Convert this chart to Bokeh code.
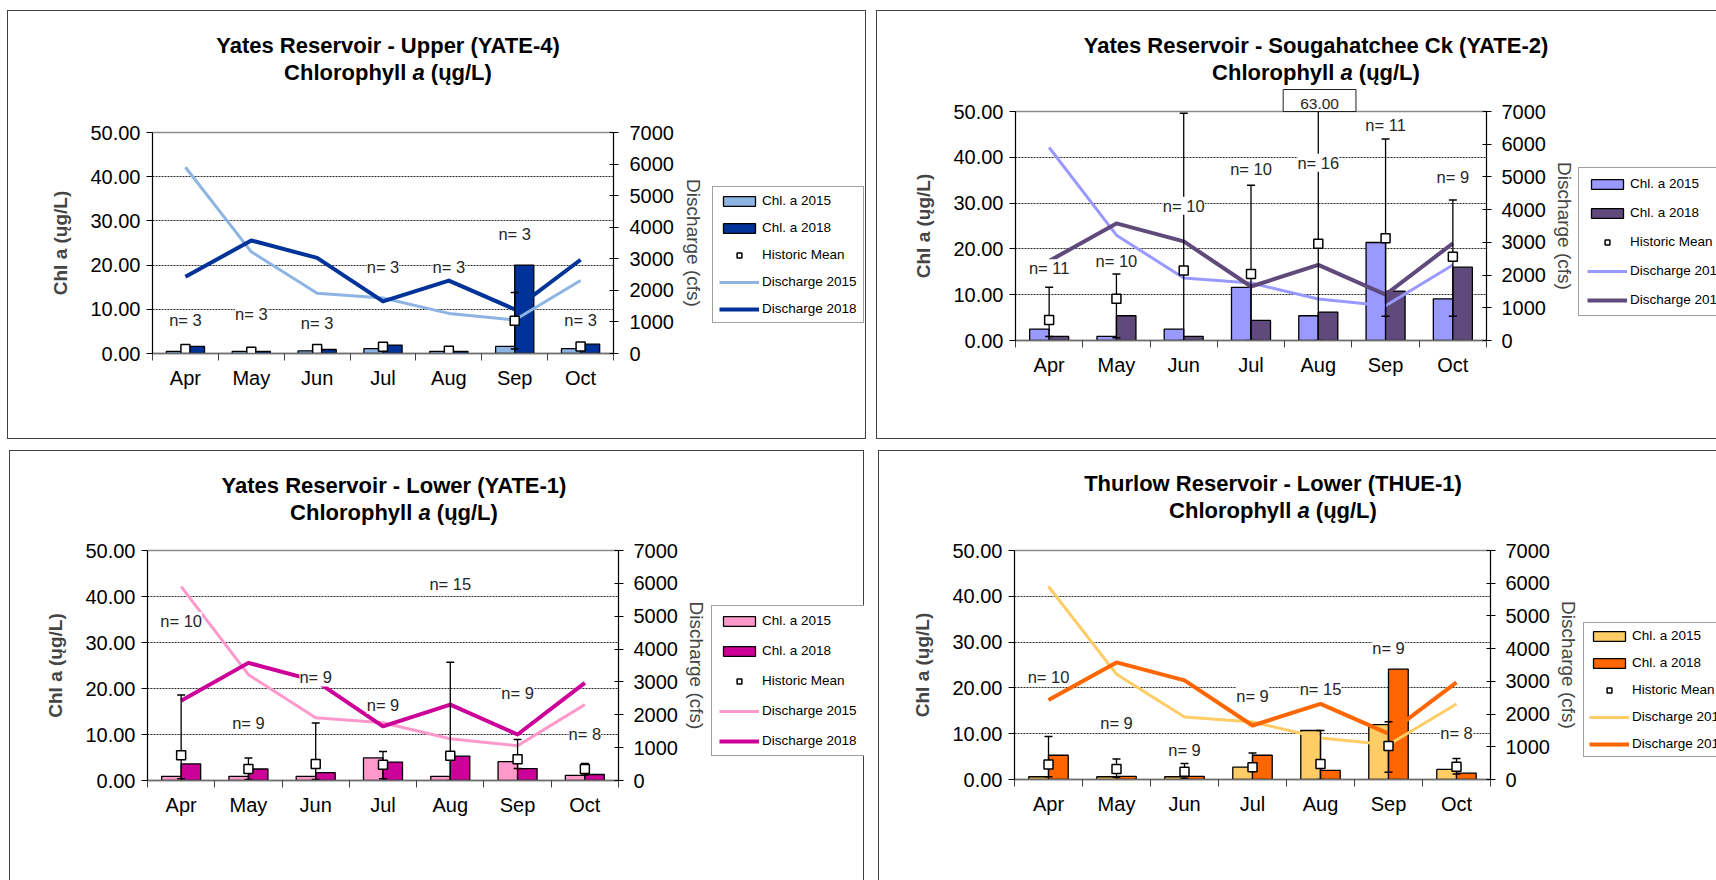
from bokeh.embed import file_html
from bokeh.layouts import column, row
from bokeh.core.properties import value
from bokeh.models import (ColumnDataSource, CustomJSTickFormatter, Div, FixedTicker, LabelSet,
                          Legend, LegendItem, LinearAxis, PrintfTickFormatter, Range1d, Title)
from bokeh.plotting import figure
from bokeh.resources import INLINE
from bokeh.transform import dodge

FONT = "Liberation Sans"

months = ["Apr", "May", "Jun", "Jul", "Aug", "Sep", "Oct"]

# Monthly mean discharge (cfs), shared by every station
discharge_2015 = [5900, 3220, 1910, 1760, 1270, 1060, 2310]
discharge_2018 = [2430, 3580, 3030, 1650, 2310, 1400, 2970]

# Yates Reservoir - Upper (YATE-4), chlorophyll a (ug/L)
yate4_chl_2015 = [0.5, 0.5, 0.6, 1.1, 0.5, 1.6, 1.1]
yate4_chl_2018 = [1.6, 0.5, 0.9, 1.9, 0.5, 20.0, 2.1]
yate4_hist_mean = [1.0, 0.4, 1.0, 1.5, 0.6, 7.4, 1.6]
yate4_hist_upper = [1.0, 0.4, 1.0, 1.5, 0.6, 13.8, 1.6]
yate4_hist_lower = [1.0, 0.4, 1.0, 1.5, 0.6, 1.0, 1.6]
yate4_n = [3, 3, 3, 3, 3, 3, 3]

# Yates Reservoir - Sougahatchee Ck (YATE-2)
yate2_chl_2015 = [2.5, 0.9, 2.5, 11.6, 5.4, 21.4, 9.1]
yate2_chl_2018 = [0.9, 5.4, 0.9, 4.4, 6.2, 10.8, 16.0]
yate2_hist_mean = [4.5, 9.1, 15.3, 14.5, 21.1, 22.3, 18.3]
yate2_hist_upper = [11.6, 14.5, 49.6, 33.9, 63.0, 44.0, 30.7]
yate2_hist_lower = [0.9, 0.6, 0.0, 0.0, 0.0, 5.3, 5.3]
yate2_n = [11, 10, 10, 10, 16, 11, 9]

# Yates Reservoir - Lower (YATE-1)
yate1_chl_2015 = [0.9, 0.9, 0.9, 4.9, 0.9, 4.1, 1.1]
yate1_chl_2018 = [3.6, 2.5, 1.7, 4.0, 5.3, 2.6, 1.3]
yate1_hist_mean = [5.5, 2.5, 3.6, 3.4, 5.4, 4.6, 2.5]
yate1_hist_upper = [18.6, 4.9, 12.5, 6.3, 25.7, 8.9, 3.7]
yate1_hist_lower = [0.4, 0.2, 0.2, 0.4, 0.0, 2.6, 1.2]
yate1_n = [10, 9, 9, 9, 15, 9, 8]

# Thurlow Reservoir - Lower (THUE-1)
thue1_chl_2015 = [0.6, 0.6, 0.6, 2.7, 10.7, 12.0, 2.2]
thue1_chl_2018 = [5.3, 0.7, 0.7, 5.3, 2.0, 24.1, 1.4]
thue1_hist_mean = [3.3, 2.3, 1.7, 2.7, 3.4, 7.3, 2.8]
thue1_hist_upper = [9.4, 4.5, 3.5, 5.8, 10.7, 12.6, 4.6]
thue1_hist_lower = [0.6, 0.5, 0.3, 2.0, 0.0, 1.6, 1.2]
thue1_n = [10, 9, 9, 9, 15, 9, 8]

# heights (in ug/L) at which each "n=" annotation sits
yate4_n_pos = [7.6, 9.0, 6.8, 19.6, 19.5, 27.0, 7.6]
yate2_n_pos = [15.8, 17.3, 29.4, 37.4, 38.8, 47.0, 35.8]
yate1_n_pos = [34.7, 12.4, 22.4, 16.4, 42.8, 19.1, 10.1]
thue1_n_pos = [22.4, 12.3, 6.5, 18.3, 19.8, 28.8, 10.1]

BW = 0.29  # bar width as a fraction of one month slot
EDGE = "#404040"


def title_div(spec, width):
    cx, t1, lh, height = spec["title_pos"]
    html = (
        f'<div style="position:relative;left:{cx - 400}px;width:800px;'
        f'padding-top:{t1 - lh / 2:.1f}px;text-align:center;white-space:nowrap;'
        f"font-family:'{FONT}',Arial,sans-serif;font-weight:bold;font-size:22px;"
        f'line-height:{lh}px;color:#000;">'
        f'{spec["title"]}<br>Chlorophyll <i>a</i> (\u0173g/L)</div>'
    )
    return Div(text=html, width=width, height=height, margin=0,
               styles={"overflow": "visible"})


def style_axes(p, q_standoffs):
    centers = [i + 0.5 for i in range(len(months))]
    # x axis: month names centred in slots, tick marks on slot boundaries
    xax = p.xaxis[0]
    xax.ticker = FixedTicker(ticks=centers, minor_ticks=list(range(len(months) + 1)))
    xax.formatter = CustomJSTickFormatter(args=dict(m=months),
                                          code="return m[Math.floor(tick)] || ''")
    xax.major_tick_out = 0
    xax.major_tick_in = 0
    xax.minor_tick_out = 7
    xax.minor_tick_in = 0
    xax.minor_tick_line_color = "#404040"
    xax.axis_line_color = "#6e6e6e"
    xax.axis_line_width = 1.5
    xax.major_label_standoff = 6
    xax.major_label_text_font = FONT
    xax.major_label_text_font_size = "20px"
    xax.major_label_text_color = "black"

    yax = p.yaxis[0]
    yax.ticker = FixedTicker(ticks=[0, 10, 20, 30, 40, 50])
    yax.formatter = PrintfTickFormatter(format="%.2f")
    yax.major_tick_out = 6
    yax.major_tick_in = 0
    yax.minor_tick_out = 0
    yax.axis_line_color = "black"
    yax.major_tick_line_color = "black"
    yax.major_label_standoff = 6
    yax.major_label_text_font = FONT
    yax.major_label_text_font_size = "20px"
    yax.major_label_text_color = "black"
    yax.axis_label = "Chl a (\u0173g/L)"
    yax.axis_label_text_font = FONT
    yax.axis_label_text_font_style = "bold"
    yax.axis_label_text_font_size = "19px"
    yax.axis_label_standoff = 16

    qax = LinearAxis(y_range_name="q", ticker=FixedTicker(ticks=list(range(0, 7001, 1000))),
                     axis_label="Discharge (cfs)")
    qax.major_tick_in = 4
    qax.major_tick_out = 5
    qax.minor_tick_out = 0
    qax.axis_line_color = "black"
    qax.major_label_standoff = q_standoffs[0]
    qax.major_label_text_font = FONT
    qax.major_label_text_font_size = "20px"
    qax.major_label_text_color = "black"
    qax.axis_label_text_font = FONT
    qax.axis_label_text_font_style = "normal"
    qax.axis_label_text_font_size = "19px"
    qax.axis_label_standoff = q_standoffs[1]
    p.add_layout(qax, "right")

    p.xgrid.visible = False
    p.ygrid.ticker = FixedTicker(ticks=[10, 20, 30, 40])
    p.ygrid.grid_line_color = "#2a2a2a"
    p.ygrid.grid_line_dash = "2 1"
    p.ygrid.grid_line_width = 1


def build_panel(spec):
    W, H = spec["size"]
    hd = spec["title_pos"][3]
    Hf = H - hd
    Wc = spec["chart_w"]
    bl, br, bt, bb = spec["borders"]
    fw = Wc - bl - br
    c15, c18 = spec["colors"]

    p = figure(width=Wc, height=Hf, x_range=Range1d(0, len(months)), y_range=Range1d(0, 50),
               output_backend="svg", toolbar_location=None,
               min_border_left=bl, min_border_right=br, min_border_top=bt - hd,
               min_border_bottom=bb,
               background_fill_color="white", border_fill_alpha=0,
               outline_line_color="#8c8c8c", outline_line_width=1.5)
    p.frame_align = False
    p.extra_y_ranges = {"q": Range1d(0, 7000)}
    style_axes(p, spec["q_standoffs"])

    centers = [i + 0.5 for i in range(len(months))]
    src = ColumnDataSource(dict(
        x=centers, c15=spec["chl15"], c18=spec["chl18"], mean=spec["mean"],
        upper=spec["upper"], lower=spec["lower"],
        q15=discharge_2015, q18=discharge_2018,
        ntext=[f"n= {n}" for n in spec["n"]], ny=spec["npos"]))

    bar_style = dict(width=BW, source=src, line_color="black", line_width=1.3)
    p.vbar(x=dodge("x", -BW / 2, range=p.x_range), top="c15", fill_color=c15, **bar_style)
    p.vbar(x=dodge("x", BW / 2, range=p.x_range), top="c18", fill_color=c18, **bar_style)

    p.line("x", "q15", source=src, y_range_name="q", line_color=c15, line_width=3,
           line_join="round")
    p.line("x", "q18", source=src, y_range_name="q", line_color=c18, line_width=4,
           line_join="round")

    p.segment(x0="x", y0="lower", x1="x", y1="upper", source=src,
              line_color="black", line_width=1.3)
    p.scatter("x", "upper", source=src, marker="dash", size=8, line_color="black", line_width=1.5)
    p.scatter("x", "lower", source=src, marker="dash", size=8, line_color="black", line_width=1.5)
    p.scatter("x", "mean", source=src, marker="square", size=9,
              fill_color="white", line_color="black", line_width=1.5)

    p.add_layout(LabelSet(x="x", y="ny", text="ntext", source=src,
                          text_align="center", text_baseline="middle",
                          text_font=value(FONT), text_font_size="16.5px", text_color="#262626",
                          background_fill_color="white"))

    # boxed value for a whisker that runs past the top of the scale
    if spec.get("callout") is not None:
        i = spec["callout"]
        fs = 15.5
        tw = 2.502 * fs
        padx = 17
        p.add_layout(Title(text=f"{spec['upper'][i]:.2f}", align="left",
                           offset=centers[i] * fw / len(months) - tw / 2 - padx,
                           vertical_align="bottom", standoff=0,
                           text_font=FONT, text_font_size=f"{fs}px", text_font_style="normal",
                           text_color="#262626", background_fill_color="white",
                           border_line_color="#202020", border_line_width=1,
                           padding=dict(left=padx, right=padx, top=9, bottom=3)), "above")

    # key panel to the right of the discharge axis; its glyphs share the
    # chart's source but stay hidden, so only the legend swatches show
    lf = figure(width=W - Wc, height=Hf, x_range=Range1d(-100, -99), y_range=Range1d(-100, -99),
                output_backend="svg", toolbar_location=None,
                x_axis_location=None, y_axis_location=None, min_border=0,
                outline_line_color=None, background_fill_alpha=0, border_fill_alpha=0)
    lf.frame_align = False
    lf.grid.visible = False
    k15 = lf.vbar(x="x", top="c15", source=src, width=BW, fill_color=c15,
                  line_color="black", line_width=1.3, visible=False)
    k18 = lf.vbar(x="x", top="c18", source=src, width=BW, fill_color=c18,
                  line_color="black", line_width=1.3, visible=False)
    khm = lf.scatter(x="x", y="mean", source=src, marker="square", size=6,
                     fill_color="white", line_color="black", line_width=1.5, visible=False)
    kq15 = lf.line(x="x", y="q15", source=src, line_color=c15, line_width=3, visible=False)
    kq18 = lf.line(x="x", y="q18", source=src, line_color=c18, line_width=4, visible=False)

    vx, vy, pad, spacing = spec["legend"]
    legend = Legend(items=[
        LegendItem(label="Chl. a 2015", renderers=[k15]),
        LegendItem(label="Chl. a 2018", renderers=[k18]),
        LegendItem(label="Historic Mean", renderers=[khm]),
        LegendItem(label="Discharge 2015", renderers=[kq15]),
        LegendItem(label="Discharge 2018", renderers=[kq18]),
    ], location=(vx, vy))
    legend.margin = 0
    legend.padding = pad
    legend.spacing = spacing
    legend.glyph_width = 40
    legend.glyph_height = 12
    legend.label_height = 15
    legend.label_standoff = 3
    legend.label_text_font = FONT
    legend.label_text_font_size = "13.5px"
    legend.label_text_color = "black"
    legend.border_line_color = EDGE
    legend.border_line_width = 1
    legend.background_fill_color = "white"
    legend.background_fill_alpha = 1
    legend.inactive_fill_alpha = 0
    lf.add_layout(legend)

    panel = column(title_div(spec, W), row(p, lf))
    sides = spec["edges"]
    shadows = []
    if "l" in sides:
        shadows.append(f"inset 1px 0 0 {EDGE}")
    if "r" in sides:
        shadows.append(f"inset -1px 0 0 {EDGE}")
    if "t" in sides:
        shadows.append(f"inset 0 1px 0 {EDGE}")
    if "b" in sides:
        shadows.append(f"inset 0 -1px 0 {EDGE}")
    panel.styles = {"background-color": "white", "box-shadow": ", ".join(shadows)}
    panel.margin = spec["margin"]
    return panel


panels = [
    dict(title="Yates Reservoir - Upper (YATE-4)", colors=("#8DB4E2", "#003399"),
         chl15=yate4_chl_2015, chl18=yate4_chl_2018, mean=yate4_hist_mean,
         upper=yate4_hist_upper, lower=yate4_hist_lower, n=yate4_n, npos=yate4_n_pos,
         size=(859, 429), chart_w=701, borders=(145, 95, 122, 86), title_pos=(381, 35, 27, 85),
         q_standoffs=(11, 6), legend=(4, 116, 6, 12), edges="lrtb", margin=(10, 0, 0, 7)),
    dict(title="Yates Reservoir - Sougahatchee Ck (YATE-2)", colors=("#9999FF", "#604A7B"),
         chl15=yate2_chl_2015, chl18=yate2_chl_2018, mean=yate2_hist_mean,
         upper=yate2_hist_upper, lower=yate2_hist_lower, n=yate2_n, npos=yate2_n_pos,
         size=(840, 429), chart_w=701, borders=(139, 89, 101, 99), title_pos=(440, 35, 27, 68),
         q_standoffs=(10, 5), legend=(1, 123, 8, 14), edges="ltb", margin=(10, 0, 0, 10),
         callout=4),
    dict(title="Yates Reservoir - Lower (YATE-1)", colors=("#FF99CC", "#CC0099"),
         chl15=yate1_chl_2015, chl18=yate1_chl_2018, mean=yate1_hist_mean,
         upper=yate1_hist_upper, lower=yate1_hist_lower, n=yate1_n, npos=yate1_n_pos,
         size=(855, 430), chart_w=700, borders=(138, 88, 100, 100), title_pos=(385, 35, 27, 85),
         q_standoffs=(10, 5), legend=(2, 124, 7, 15), edges="ltr", margin=(11, 0, 0, 9)),
    dict(title="Thurlow Reservoir - Lower (THUE-1)", colors=("#FFCC66", "#FF6600"),
         chl15=thue1_chl_2015, chl18=thue1_chl_2018, mean=thue1_hist_mean,
         upper=thue1_hist_upper, lower=thue1_hist_lower, n=thue1_n, npos=thue1_n_pos,
         size=(838, 430), chart_w=703, borders=(136, 91, 100, 101), title_pos=(395, 33, 27, 85),
         q_standoffs=(10, 5), legend=(2, 123, 5, 12), edges="lt", margin=(11, 0, 0, 14)),
]

panel_views = [build_panel(spec) for spec in panels]

layout = column(row(panel_views[0], panel_views[1]), row(panel_views[2], panel_views[3]))

with open("out.html", "w") as fh_out:
    fh_out.write(file_html(layout, INLINE, title="Chlorophyll a and discharge"))
